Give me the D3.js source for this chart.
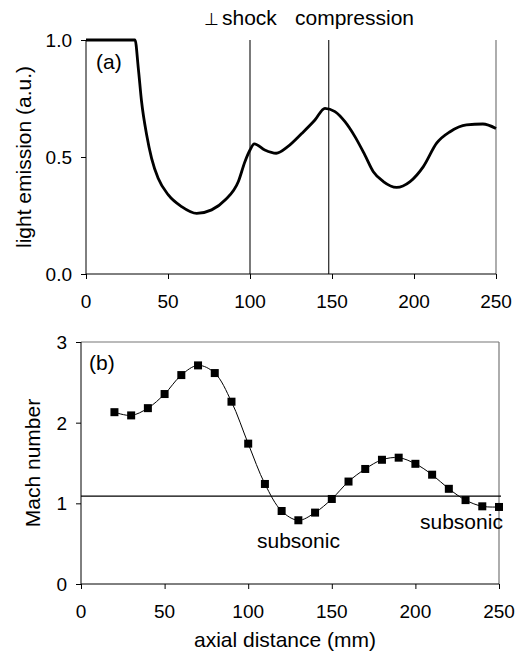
<!DOCTYPE html>
<html>
<head>
<meta charset="utf-8">
<script src="https://cdn.jsdelivr.net/npm/d3@7"></script>
<style>
  body { margin: 0; background: #fff; }
  text { font-family: "Liberation Sans", Arial, sans-serif; fill: #000; }
</style>
</head>
<body>
<div class="chart"></div>
<script>
// panel (a): light emission vs axial distance (mm)
const emissionX = [0, 29.9, 31.9, 33.9, 37, 40, 44, 50.2, 58.3, 67.5, 76.6, 84.8, 92.9, 96.9, 100, 102.6, 109, 116, 123, 131.5, 139.6, 145.7, 151.8, 157.9, 164, 170, 175.2, 181.3, 189.4, 197.6, 205.7, 213.8, 222, 232, 242, 250];
const emissionY = [1.0, 1.0, 0.879, 0.736, 0.594, 0.494, 0.409, 0.338, 0.288, 0.259, 0.274, 0.316, 0.395, 0.48, 0.53, 0.556, 0.53, 0.516, 0.544, 0.60, 0.658, 0.708, 0.694, 0.651, 0.587, 0.509, 0.437, 0.395, 0.37, 0.395, 0.459, 0.559, 0.608, 0.637, 0.641, 0.622];
const markerLines = [100, 148];

// panel (b): Mach number
const machX = [20, 30, 40, 50, 60, 70, 80, 90, 100, 110, 120, 130, 140, 150, 160, 170, 180, 190, 200, 210, 220, 230, 240, 250];
const machY = [2.13, 2.09, 2.18, 2.355, 2.59, 2.71, 2.615, 2.26, 1.74, 1.24, 0.905, 0.79, 0.885, 1.054, 1.27, 1.426, 1.54, 1.566, 1.49, 1.355, 1.18, 1.04, 0.963, 0.955];
const sonicLine = 1.09;

const xTicks = [0, 50, 100, 150, 200, 250];
const yTicksA = [0, 0.5, 1.0];
const yTicksB = [0, 1, 2, 3];

const W = 519, H = 655;
const svg = d3.select(".chart").append("svg")
    .attr("width", W).attr("height", H);

const tickFont = 19, labelFont = 21;

// scales
const xA = d3.scaleLinear().domain([0, 250]).range([86, 496]);
const yA = d3.scaleLinear().domain([0, 1]).range([274, 40]);
const xB = d3.scaleLinear().domain([0, 250]).range([81, 499]);
const yB = d3.scaleLinear().domain([0, 3]).range([584, 342]);

function drawAxes(x, y, yTicks, yMinorStep, yFmt) {
  const x0 = x.range()[0], x1 = x.range()[1];
  const y0 = y.range()[0], y1 = y.range()[1];
  // minor ticks inside, major outside
  const gx = svg.append("g").attr("transform", `translate(0,${y0})`);
  gx.call(d3.axisBottom(x).tickValues(d3.range(0, 251, 10)).tickSize(-5).tickFormat(""));
  gx.call(d3.axisBottom(x).tickValues(xTicks).tickSize(5).tickFormat(""));
  gx.selectAll("path.domain").remove();
  gx.append("line").attr("x1", x0).attr("x2", x1).attr("stroke", "#000");
  gx.selectAll(".tick line").attr("stroke", "#000");
  gx.selectAll(".lbl").data(xTicks).join("text")
    .attr("x", d => x(d)).attr("y", 34)
    .attr("text-anchor", "middle").attr("font-size", tickFont)
    .text(d => d);

  const gy = svg.append("g").attr("transform", `translate(${x0},0)`);
  const dom = y.domain();
  gy.call(d3.axisLeft(y).tickValues(d3.range(dom[0], dom[1] + 1e-9, yMinorStep)).tickSize(-5).tickFormat(""));
  gy.call(d3.axisLeft(y).tickValues(yTicks).tickSize(5).tickFormat(""));
  gy.selectAll("path.domain").remove();
  gy.append("line").attr("y1", y0 + 0.5).attr("y2", y1).attr("stroke", "#000");
  gy.selectAll(".tick line").attr("stroke", "#000");
  gy.selectAll(".lbl").data(yTicks).join("text")
    .attr("x", -14).attr("y", d => y(d)).attr("dy", "0.36em")
    .attr("text-anchor", "end").attr("font-size", tickFont)
    .text(yFmt);
}

// ---------- panel (a)
svg.append("clipPath").attr("id", "clipA").append("rect")
    .attr("x", xA(0)).attr("y", yA(1) - 2).attr("width", xA(250) - xA(0) + 2).attr("height", yA(0) - yA(1) + 2);

// right border
svg.append("line").attr("x1", xA(250)).attr("x2", xA(250)).attr("y1", yA(0)).attr("y2", yA(1))
    .attr("stroke", "#777").attr("stroke-width", 1.2);
svg.selectAll(".vline").data(markerLines).join("line")
    .attr("x1", d => xA(d)).attr("x2", d => xA(d)).attr("y1", yA(0)).attr("y2", yA(1))
    .attr("stroke", "#222").attr("stroke-width", 1.2);

drawAxes(xA, yA, yTicksA, 0.1, d => d3.format(".1f")(d));

const emission = emissionX.map((d, i) => [d, emissionY[i]]);
svg.append("path").datum(emission)
    .attr("clip-path", "url(#clipA)")
    .attr("fill", "none").attr("stroke", "#000").attr("stroke-width", 2.8)
    .attr("stroke-linejoin", "round")
    .attr("d", d3.line().x(d => xA(d[0])).y(d => yA(d[1])).curve(d3.curveMonotoneX));

svg.append("text").attr("x", 96).attr("y", 69).attr("font-size", labelFont).text("(a)");
svg.append("text").attr("x", 204).attr("y", 25).attr("font-size", 17).text("⊥");
svg.append("text").attr("x", 222).attr("y", 25).attr("font-size", labelFont).text("shock");
svg.append("text").attr("x", 295).attr("y", 25).attr("font-size", labelFont).text("compression");
svg.append("text").attr("transform", `translate(31,${(yA(0) + yA(1)) / 2}) rotate(-90)`)
    .attr("text-anchor", "middle").attr("font-size", labelFont).text("light emission (a.u.)");

// ---------- panel (b)
svg.append("line").attr("x1", xB(0)).attr("x2", xB(250)).attr("y1", yB(3)).attr("y2", yB(3))
    .attr("stroke", "#777").attr("stroke-width", 1.2);
svg.append("line").attr("x1", xB(250)).attr("x2", xB(250)).attr("y1", yB(0)).attr("y2", yB(3))
    .attr("stroke", "#777").attr("stroke-width", 1.2);
svg.append("line").attr("x1", xB(0)).attr("x2", xB(250) + 2).attr("y1", yB(sonicLine)).attr("y2", yB(sonicLine))
    .attr("stroke", "#000").attr("stroke-width", 1.2);

drawAxes(xB, yB, yTicksB, 0.2, d => d);

const mach = machX.map((d, i) => [d, machY[i]]);
svg.append("path").datum(mach)
    .attr("fill", "none").attr("stroke", "#000").attr("stroke-width", 1)
    .attr("d", d3.line().x(d => xB(d[0])).y(d => yB(d[1])).curve(d3.curveCatmullRom.alpha(0.5)));
svg.selectAll(".sq").data(mach).join("rect")
    .attr("x", d => xB(d[0]) - 4).attr("y", d => yB(d[1]) - 4)
    .attr("width", 8).attr("height", 8).attr("fill", "#000");

svg.append("text").attr("x", 89).attr("y", 370).attr("font-size", labelFont).text("(b)");
svg.append("text").attr("x", 257).attr("y", 548).attr("font-size", labelFont).text("subsonic");
svg.append("text").attr("x", 420).attr("y", 529).attr("font-size", labelFont).text("subsonic");
svg.append("text").attr("transform", `translate(40,${(yB(0) + yB(3)) / 2}) rotate(-90)`)
    .attr("text-anchor", "middle").attr("font-size", labelFont).text("Mach number");
svg.append("text").attr("x", 285).attr("y", 647).attr("text-anchor", "middle")
    .attr("font-size", labelFont).text("axial distance (mm)");
</script>
</body>
</html>
